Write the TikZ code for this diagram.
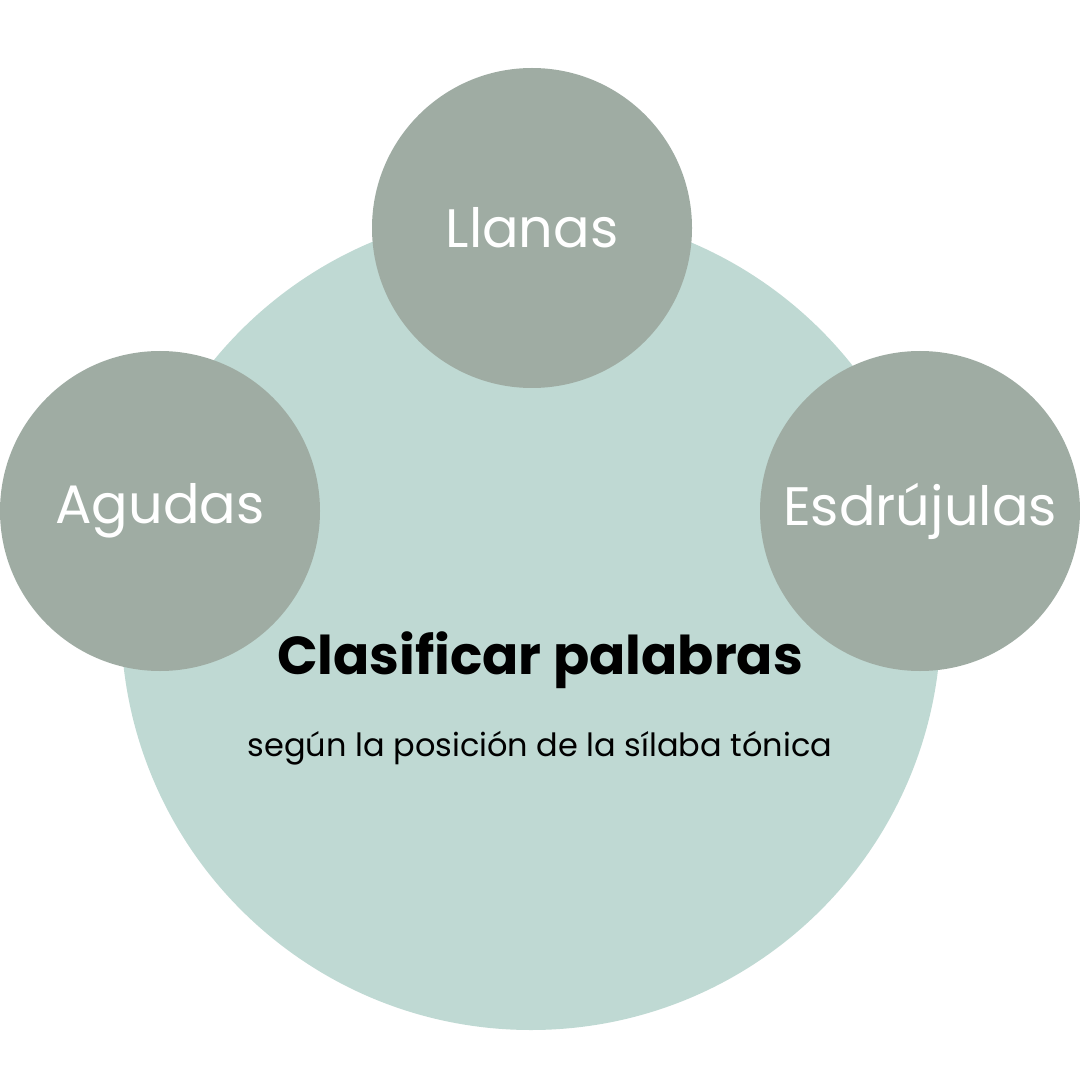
\documentclass[tikz,border=0pt]{standalone}
\usepackage{fontspec}
\setmainfont{Poppins}
\usepackage{tikz}
\usetikzlibrary{positioning}
\usepackage{xcolor}
\definecolor{cbmint}{RGB}{191,217,211}
\definecolor{cbsage}{RGB}{159,172,163}
\tikzstyle{bigcircle} = [circle, minimum size=8.2cm, inner sep=0pt, fill=cbmint]
\tikzstyle{typecircle} = [circle, minimum size=3.2cm, inner sep=0pt, fill=cbsage, text=white, font=\fontsize{15.4}{18}\selectfont]

\begin{document}
\begin{tikzpicture}
\useasboundingbox (0,0) rectangle (10.8,-10.8);
\node (main) [bigcircle] at (5.31,-6.20) {};
\node (llanas) [typecircle] at (5.32,-2.28) {Llanas};
\node (agudas) [typecircle] at (1.60,-5.11) {Agudas};
\node (esdrujulas) [typecircle] at (9.20,-5.11) {Esdrújulas};

\node (title) at (5.40,-6.60) {\fontsize{15.2}{18}\selectfont\bfseries Clasificar palabras};
\node (subtitle) [below=0.18cm of title, font=\fontsize{9.1}{11}\selectfont] {según la posición de la sílaba tónica};
\end{tikzpicture}
\end{document}
